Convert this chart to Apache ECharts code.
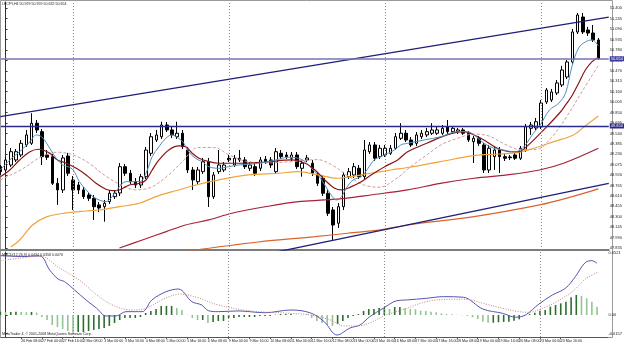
<!DOCTYPE html>
<html>
<head>
<meta charset="utf-8">
<script src="https://cdn.jsdelivr.net/npm/echarts@6/dist/echarts.min.js"></script>
<style>
  html, body { margin: 0; padding: 0; background: #fff; }
  #chart { width: 625px; height: 345px; }
</style>
</head>
<body>
<div id="chart"></div>
<script>
// H4 bars, index of first bar in the arrays below
const firstBar = -1;

const opens = [
  49.045, 48.996, 49.070, 49.145, 49.219, 49.368, 49.393, 49.691, 49.566, 49.219,
  49.194, 48.798, 48.699, 49.204, 48.847, 48.773, 48.699, 48.624, 48.575, 48.476,
  48.450, 48.525, 48.599, 48.654, 49.045, 48.947, 48.822, 48.773, 48.896, 49.244,
  49.442, 49.491, 49.665, 49.591, 49.491, 49.542, 49.293, 48.996, 48.822, 48.971,
  49.120, 48.599, 48.971, 48.996, 49.170, 49.070, 49.145, 49.145, 49.021, 49.045,
  49.021, 49.155, 49.145, 48.971, 49.244, 49.219, 49.170, 49.219, 49.021, 49.145,
  49.096, 48.922, 48.873, 48.650, 48.401, 48.204, 48.450, 48.896, 48.922, 49.021,
  48.896, 49.268, 49.368, 49.194, 49.219, 49.244, 49.319, 49.467, 49.542, 49.442,
  49.393, 49.491, 49.517, 49.542, 49.542, 49.542, 49.640, 49.566, 49.566, 49.591,
  49.542, 49.417, 49.467, 49.368, 48.996, 49.194, 49.293, 49.194, 49.189, 49.219,
  49.170, 49.293, 49.616, 49.621, 49.636, 50.007, 50.037, 50.141, 50.260, 50.379,
  50.602, 51.048, 51.271, 51.078, 51.033, 50.929
];
const closes = [
  48.971, 49.145, 49.268, 49.268, 49.393, 49.517, 49.691, 49.591, 49.194, 49.185,
  48.798, 48.699, 49.175, 48.947, 48.699, 48.699, 48.599, 48.575, 48.450, 48.431,
  48.501, 48.650, 48.650, 49.045, 48.947, 48.822, 48.773, 48.896, 49.293, 49.491,
  49.517, 49.665, 49.591, 49.517, 49.542, 49.343, 48.996, 48.847, 48.996, 49.120,
  48.599, 48.922, 49.070, 49.070, 49.145, 49.170, 49.170, 49.045, 49.070, 48.947,
  49.145, 49.120, 49.070, 49.268, 49.194, 49.194, 49.219, 49.045, 49.096, 49.175,
  48.947, 48.798, 48.650, 48.352, 48.178, 48.450, 48.922, 48.971, 49.045, 48.896,
  49.293, 49.368, 49.170, 49.319, 49.319, 49.319, 49.491, 49.542, 49.442, 49.368,
  49.517, 49.542, 49.566, 49.591, 49.591, 49.616, 49.566, 49.616, 49.591, 49.542,
  49.442, 49.467, 49.393, 48.996, 49.319, 49.293, 49.194, 49.170, 49.179, 49.170,
  49.319, 49.640, 49.665, 49.714, 49.992, 50.186, 50.156, 50.290, 50.483, 50.602,
  51.048, 51.301, 51.048, 51.033, 50.929, 50.654
];
const highs = [
  49.070, 49.189, 49.323, 49.308, 49.442, 49.591, 49.839, 49.740, 49.606, 49.293,
  49.234, 48.877, 49.219, 49.249, 48.907, 48.818, 48.743, 48.669, 48.624, 48.520,
  48.550, 48.699, 48.699, 49.100, 49.085, 48.996, 48.877, 48.937, 49.338, 49.546,
  49.591, 49.714, 49.710, 49.636, 49.714, 49.591, 49.338, 49.041, 49.041, 49.175,
  49.175, 48.966, 49.293, 49.115, 49.219, 49.219, 49.293, 49.189, 49.115, 49.100,
  49.189, 49.204, 49.189, 49.323, 49.293, 49.264, 49.264, 49.264, 49.145, 49.219,
  49.145, 48.966, 48.922, 48.699, 48.446, 48.505, 48.966, 49.026, 49.100, 49.070,
  49.442, 49.412, 49.412, 49.368, 49.368, 49.368, 49.546, 49.691, 49.591, 49.487,
  49.561, 49.591, 49.621, 49.691, 49.636, 49.665, 49.740, 49.650, 49.621, 49.621,
  49.576, 49.502, 49.502, 49.398, 49.368, 49.338, 49.338, 49.234, 49.219, 49.249,
  49.353, 49.680, 49.710, 49.769, 50.037, 50.215, 50.201, 50.334, 50.543, 50.632,
  51.093, 51.331, 51.331, 51.123, 51.152, 50.959
];
const lows = [
  48.922, 48.966, 49.041, 49.115, 49.189, 49.338, 49.368, 49.546, 49.070, 49.145,
  48.773, 48.476, 48.654, 48.907, 48.401, 48.639, 48.565, 48.535, 48.253, 48.372,
  48.227, 48.491, 48.565, 48.609, 48.907, 48.788, 48.728, 48.728, 48.862, 49.204,
  49.412, 49.457, 49.561, 49.472, 49.457, 49.308, 48.951, 48.699, 48.788, 48.937,
  48.446, 48.565, 48.937, 48.966, 49.115, 49.041, 49.115, 49.011, 48.981, 48.907,
  48.981, 49.085, 49.026, 48.937, 49.160, 49.160, 49.130, 49.011, 48.896, 49.115,
  48.907, 48.758, 48.609, 48.312, 47.955, 48.134, 48.401, 48.862, 48.877, 48.862,
  48.862, 49.234, 49.130, 49.160, 49.189, 49.219, 49.293, 49.442, 49.412, 49.338,
  49.353, 49.457, 49.487, 49.517, 49.517, 49.517, 49.531, 49.531, 49.531, 49.517,
  49.412, 49.100, 49.353, 48.951, 48.951, 48.996, 48.951, 49.130, 49.145, 49.145,
  49.145, 49.264, 49.517, 49.591, 49.606, 49.978, 50.007, 50.111, 50.230, 50.349,
  50.572, 51.018, 51.018, 50.989, 50.899, 50.632
];

// moving averages as [bar, price]
const maFast = [
  [-1,48.996],[0.8,49.145],[2.7,49.268],[4.7,49.417],[5.9,49.517],[6.9,49.491],[7.9,49.393],
  [9.1,49.244],[10,49.145],[11,49.070],[12,49.045],[13,48.996],[14.2,48.822],[15.5,48.699],
  [16.8,48.599],[18,48.550],[19.3,48.525],[20.6,48.609],[21.9,48.748],[23.1,48.822],[25.8,48.822],
  [27,48.947],[28.2,49.194],[29.5,49.343],[30.8,49.467],[32,49.517],[33.3,49.467],[34.3,49.393],
  [35.2,49.268],[36.5,49.170],[37.8,49.120],[39.1,49.045],[41,49.021],[42.9,49.045],[44.8,49.070],
  [46.7,49.081],[48.6,49.096],[50.5,49.120],[52.5,49.155],[54.4,49.185],[56.3,49.170],[57.6,49.120],
  [58.8,49.021],[60.1,48.922],[61.4,48.773],[62.6,48.624],[63.6,48.550],[64.6,48.599],[65.5,48.724],
  [66.8,48.847],[68.4,48.896],[69.7,49.021],[70.9,49.145],[72.2,49.194],[73.5,49.244],[74.8,49.293],
  [76,49.368],[77.3,49.393],[80.5,49.442],[83.7,49.491],[86.9,49.566],[88.8,49.566],[90.1,49.517],
  [92,49.393],[93.9,49.319],[95.8,49.293],[97.7,49.268],[99,49.293],[100.2,49.393],[101.5,49.542],
  [102.8,49.665],[104.6,49.888],[106.4,49.990],[107.7,50.140],[108.9,50.530],[110.2,50.810],
  [111.5,50.900],[112.8,50.930],[114,50.840]
];
const maMid = [
  [-1,48.896],[0.8,48.996],[2.7,49.145],[4.7,49.268],[6.3,49.304],[7.2,49.293],[8.5,49.244],
  [10,49.145],[11.7,49.096],[13.6,49.021],[15.5,48.922],[17.4,48.798],[19.3,48.709],[20.6,48.688],
  [21.9,48.699],[23.8,48.773],[25.8,48.798],[27,48.847],[28.2,48.996],[29.5,49.145],[31.4,49.293],
  [33.3,49.353],[34.6,49.343],[35.9,49.244],[37.2,49.170],[39.1,49.120],[41,49.096],[44.8,49.096],
  [50,49.115],[55,49.145],[57.6,49.096],[59.5,48.996],[61.4,48.847],[63.3,48.724],[64.6,48.699],
  [66.5,48.748],[68.4,48.822],[70.3,48.922],[72.9,49.045],[75.4,49.145],[77.3,49.268],[81,49.393],
  [84.9,49.517],[88.1,49.566],[90.1,49.517],[92,49.442],[94.6,49.319],[97.1,49.268],[98.7,49.268],
  [100.2,49.343],[102.2,49.491],[104.1,49.640],[106.7,49.858],[107.7,49.963],[108.9,50.097],
  [110.2,50.285],[111.5,50.483],[112.8,50.607],[114,50.672]
];
const maShifted = [
  [-1,48.85],[3,49.00],[7,49.20],[10,49.26],[13,49.22],[16,49.10],[19,48.92],[22,48.78],[25,48.70],
  [28,48.74],[31,48.90],[34,49.12],[37,49.33],[40,49.33],[43,49.22],[46,49.13],[50,49.10],[55,49.12],
  [60,49.15],[63,49.06],[66,48.90],[69,48.77],[72,48.74],[75,48.86],[78,49.05],[81,49.22],[84,49.38],
  [87,49.47],[90,49.53],[93,49.50],[96,49.38],[99,49.30],[102,49.30],[105,49.48],[108,49.80],
  [111,50.18],[114,50.55]
];
const maSlow1 = [
  [1,47.850],[2.7,47.955],[5.2,48.178],[8,48.302],[11.7,48.357],[15.5,48.386],[18,48.401],
  [21.9,48.450],[25.7,48.501],[28.9,48.599],[32.1,48.674],[35.9,48.758],[39.1,48.820],[41,48.850],
  [46.7,48.922],[52.5,48.947],[56.3,48.971],[60.1,48.922],[63.9,48.873],[66.4,48.896],[70.2,48.947],
  [74.1,48.996],[77.3,49.033],[83.6,49.120],[90.1,49.209],[95.1,49.234],[98.3,49.253],[101.6,49.319],
  [105.4,49.417],[109.2,49.517],[111.7,49.665],[114,49.799]
];
const maSlow2 = [
  [21.9,47.836],[26.3,47.955],[30.9,48.079],[34.6,48.178],[39.1,48.253],[43.5,48.352],[50,48.450],
  [56.3,48.525],[61.4,48.550],[65.3,48.575],[70.2,48.624],[77.3,48.699],[83.6,48.798],[90.1,48.873],
  [96.4,48.922],[102.7,48.996],[107.3,49.096],[114,49.319]
];
const maSlow3 = [
  [35,47.790],[48.6,47.925],[59.5,48.004],[65.8,48.055],[72.1,48.104],[77.3,48.178],[90.1,48.302],
  [102.7,48.476],[108.8,48.595],[114,48.714]
];

// drawn objects
const upperTrend = [[-1, 49.790], [116, 51.268]];
const lowerTrend = [[50, 47.743], [116, 48.798]];
const bidPrice = 50.654;
const levelPrice = 49.650;
const weekStarts = [13, 43, 73, 103];

// MACD window
const macdHist = [
  0.0027, 0.0025, 0.0025, 0.0027, 0.0025, 0.0023, 0.0025, 0.0020, -0.0017, -0.0042,
  -0.0084, -0.0101, -0.0118, -0.0134, -0.0143, -0.0143, -0.0143, -0.0134, -0.0126, -0.0118,
  -0.0109, -0.0092, -0.0067, -0.0042, -0.0025, -0.0025, -0.0025, -0.0017, 0.0017, 0.0034,
  0.0050, 0.0076, 0.0076, 0.0076, 0.0059, 0.0042, 0.0003, -0.0025, -0.0042, -0.0042,
  -0.0067, -0.0059, -0.0050, -0.0050, -0.0025, -0.0025, -0.0017, -0.0017, -0.0017, -0.0017,
  -0.0008, -0.0008, -0.0008, 0.0003, 0.0008, 0.0008, 0.0008, 0.0003, -0.0003, 0.0003,
  -0.0025, -0.0050, -0.0067, -0.0084, -0.0092, -0.0076, -0.0050, -0.0025, -0.0008, 0.0008,
  0.0034, 0.0050, 0.0050, 0.0059, 0.0059, 0.0050, 0.0067, 0.0067, 0.0059, 0.0050,
  0.0048, 0.0036, 0.0034, 0.0028, 0.0023, 0.0014, 0.0008, 0.0006, 0.0003, -0.0002,
  -0.0008, -0.0019, -0.0034, -0.0056, -0.0065, -0.0065, -0.0061, -0.0059, -0.0056, -0.0048,
  -0.0036, -0.0008, 0.0008, 0.0019, 0.0036, 0.0042, 0.0070, 0.0084, 0.0098, 0.0112,
  0.0149, 0.0168, 0.0160, 0.0140, 0.0112, 0.0070
];
const macdMain = [
  [-1,0.0498],[3,0.0491],[6.6,0.0495],[8.5,0.0378],[10.1,0.0302],[11.4,0.0279],[13.3,0.0210],
  [15.5,0.0126],[17.5,0.0059],[19.4,-0.0008],[21.3,-0.0008],[23.2,0.0028],[26.3,0.0028],[28.2,0.0126],
  [30.9,0.0195],[33.3,0.0218],[35.9,0.0112],[37.8,0.0084],[39.1,0.0036],[41,0.0028],[44.8,0.0034],
  [50,0.0019],[55,0.0042],[58.8,0.0017],[61.4,-0.0056],[63.9,-0.0168],[66.4,-0.0109],[68.3,-0.0084],
  [70.2,-0.0014],[72.9,0.0059],[75.4,0.0120],[77.3,0.0126],[81.1,0.0140],[84.4,0.0154],[88.2,0.0149],
  [92,0.0050],[95.8,0.0014],[98.3,-0.0019],[100.2,0.0000],[102.8,0.0092],[105.4,0.0168],[107.9,0.0224],
  [109.8,0.0321],[111.7,0.0439],[113,0.0456],[114,0.0434]
];
const macdSignal = [
  [-1,0.0456],[3,0.0478],[6.6,0.0495],[10.4,0.0394],[14.2,0.0294],[18,0.0154],[21.3,0.0070],
  [24.4,0.0042],[27,0.0056],[30.9,0.0143],[33.7,0.0176],[37.2,0.0143],[39.1,0.0112],[41,0.0084],
  [46.7,0.0036],[55,0.0014],[58.8,0.0000],[62.6,-0.0042],[65.3,-0.0092],[67.8,-0.0092],[70.2,-0.0067],
  [72.9,-0.0008],[77.3,0.0056],[81.1,0.0112],[85.5,0.0132],[88.8,0.0132],[92,0.0098],[95.8,0.0056],
  [98.9,0.0028],[100.8,0.0023],[103.5,0.0056],[106,0.0107],[109.2,0.0195],[111.7,0.0300],[114,0.0358]
];

// axis labels
const priceTicks = [
  51.400, 51.245, 51.090, 50.935, 50.780, 50.625, 50.470, 50.315, 50.160, 50.005, 49.850, 49.695,
  49.540, 49.385, 49.230, 49.075, 48.920, 48.765, 48.610, 48.455, 48.300, 48.145, 47.990, 47.835
];
const macdTicks = [0.0521, 0, -0.0157];
const timeTickBars = [-0.7, 3, 7, 11, 15, 19, 23, 27, 31, 35, 39, 43, 47, 51, 55, 59, 63, 67, 71,
  75, 79, 83, 87, 91, 95, 99, 103, 107, 111];
const timeTickText = ['23 Feb 2009', '26 Feb 08:00', '27 Feb 00:00', '27 Feb 16:00', '2 Mar 08:00',
  '3 Mar 00:00', '3 Mar 16:00', '4 Mar 08:00', '5 Mar 00:00', '5 Mar 16:00', '6 Mar 08:00',
  '9 Mar 00:00', '9 Mar 16:00', '10 Mar 08:00', '11 Mar 00:00', '11 Mar 16:00', '12 Mar 08:00',
  '13 Mar 00:00', '13 Mar 16:00', '16 Mar 08:00', '17 Mar 00:00', '17 Mar 16:00', '18 Mar 08:00',
  '19 Mar 00:00', '19 Mar 16:00', '20 Mar 08:00', '23 Mar 00:00', '23 Mar 16:00', '24 Mar 08:00'];

const X_MIN = -0.88;
const X_MAX = 116.0;
const FONT = 'Liberation Sans';
const HIST_DARK = '#2c6e2c';
const HIST_LIGHT = '#93c493';

const candleData = opens.map((o, k) => [firstBar + k, o, closes[k], lows[k], highs[k]]);
const histData = macdHist.map((v, k) => ({
  value: [firstBar + k, v],
  itemStyle: { color: k > 0 && v < macdHist[k - 1] ? HIST_LIGHT : HIST_DARK }
}));

function maLine(data, color, width, type, smooth) {
  return {
    type: 'line', xAxisIndex: 0, yAxisIndex: 0, data: data,
    smooth: smooth === undefined ? 0.35 : smooth,
    symbol: 'none', silent: true, z: 4,
    lineStyle: { color: color, width: width, type: type || 'solid' }
  };
}

const sepLine = { color: '#8a8a8a', width: 1, type: [1, 2] };
const levelLabel = {
  show: true, position: 'end', distance: 1, fontSize: 4, fontFamily: FONT,
  color: '#fff', padding: [1, 1, 0, 1]
};

const chart = echarts.init(document.getElementById('chart'));

chart.setOption({
  animation: false,
  backgroundColor: '#fff',
  textStyle: { fontFamily: FONT },
  grid: [
    { left: 1, top: 2, width: 612, height: 248 },
    { left: 1, top: 252, width: 612, height: 85 }
  ],
  xAxis: [
    {
      gridIndex: 0, type: 'value', min: X_MIN, max: X_MAX,
      axisLine: { onZero: false, lineStyle: { color: '#7d7d7d', width: 2 } },
      axisTick: { show: false }, axisLabel: { show: false }, splitLine: { show: false }
    },
    {
      gridIndex: 1, type: 'value', min: X_MIN, max: X_MAX,
      axisLine: { onZero: false, lineStyle: { color: '#555', width: 1 } },
      axisTick: { show: true, customValues: timeTickBars, length: 2, lineStyle: { color: '#555' } },
      axisLabel: {
        customValues: timeTickBars, align: 'left', fontSize: 3.6, color: '#222', margin: 2,
        formatter: v => timeTickText[timeTickBars.indexOf(v)] || ''
      },
      splitLine: { show: false }
    }
  ],
  yAxis: [
    {
      gridIndex: 0, type: 'value', position: 'right', min: 47.806, max: 51.494,
      axisLine: { show: true, lineStyle: { color: '#333', width: 1 } },
      axisTick: { show: true, customValues: priceTicks, length: 2, lineStyle: { color: '#333' } },
      axisLabel: {
        customValues: priceTicks, fontSize: 4, color: '#222', margin: 1,
        formatter: v => v.toFixed(3)
      },
      splitLine: { show: false }
    },
    {
      gridIndex: 1, type: 'value', position: 'right', min: -0.01846, max: 0.05286,
      axisLine: { show: true, lineStyle: { color: '#333', width: 1 } },
      axisTick: { show: true, customValues: macdTicks, length: 2, lineStyle: { color: '#333' } },
      axisLabel: {
        customValues: macdTicks, fontSize: 4, color: '#222', margin: 1,
        formatter: v => (v === 0 ? '0.00' : v.toFixed(4))
      },
      splitLine: { show: false }
    }
  ],
  graphic: [
    { type: 'rect', shape: { x: 0.5, y: 0.5, width: 612, height: 337 }, style: { fill: 'none', stroke: '#9a9a9a', lineWidth: 1 }, z: 0, silent: true },
    { type: 'text', left: 2, top: 2, style: { text: 'LFCFY,H4 50.929 50.959 50.632 50.654', fontSize: 3.6, fill: '#222', fontFamily: FONT }, z: 10 },
    { type: 'text', left: 2, top: 253, style: { text: 'MACD(12,26,9) 0.0434 0.0358 0.0070', fontSize: 3.6, fill: '#222', fontFamily: FONT }, z: 10 },
    { type: 'text', left: 2, top: 332, style: { text: 'MetaTrader 4, \u00a9 2001-2008 MetaQuotes Software Corp.', fontSize: 3.6, fill: '#222', fontFamily: FONT }, z: 10 }
  ],
  series: [
    {
      type: 'candlestick', xAxisIndex: 0, yAxisIndex: 0, data: candleData,
      encode: { x: 0, y: [1, 2, 3, 4] },
      barWidth: 3, silent: true, z: 3,
      itemStyle: { color: '#fff', color0: '#000', borderColor: '#000', borderColor0: '#000', borderWidth: 1 },
      markLine: {
        symbol: 'none', silent: true, animation: false,
        data: weekStarts.map(b => ({ xAxis: b, lineStyle: sepLine, label: { show: false } })).concat([
          { yAxis: bidPrice, lineStyle: { color: '#7676b6', width: 1.5, type: 'solid' },
            label: Object.assign({ formatter: bidPrice.toFixed(3), backgroundColor: '#3a3aa0' }, levelLabel) },
          { yAxis: levelPrice, lineStyle: { color: '#2a2a8c', width: 1.3, type: 'solid' },
            label: Object.assign({ formatter: levelPrice.toFixed(3), backgroundColor: '#2a2a8c' }, levelLabel) }
        ])
      }
    },
    maLine(maSlow3, '#d8642c', 1.2),
    maLine(maSlow2, '#a8203a', 1.2),
    maLine(maSlow1, '#f0a43a', 1.2),
    maLine(maShifted, '#cf9a9a', 1, [3, 2]),
    maLine(maMid, '#8b1414', 1.2),
    maLine(maFast, '#4f90c2', 1),
    maLine(upperTrend, '#1e1e7a', 1.3, 'solid', false),
    maLine(lowerTrend, '#1e1e7a', 1.3, 'solid', false),
    {
      type: 'bar', xAxisIndex: 1, yAxisIndex: 1, data: histData, barWidth: 1.6, silent: true, z: 2,
      markLine: {
        symbol: 'none', silent: true, animation: false, label: { show: false },
        lineStyle: sepLine,
        data: weekStarts.map(b => ({ xAxis: b }))
      }
    },
    {
      type: 'line', xAxisIndex: 1, yAxisIndex: 1, data: macdMain, smooth: 0.35, symbol: 'none', silent: true, z: 3,
      lineStyle: { color: '#5656b0', width: 1 }
    },
    {
      type: 'line', xAxisIndex: 1, yAxisIndex: 1, data: macdSignal, smooth: 0.35, symbol: 'none', silent: true, z: 3,
      lineStyle: { color: '#c98282', width: 1, type: [1, 1.5] }
    }
  ]
});

window.addEventListener('resize', () => chart.resize());
</script>
</body>
</html>
